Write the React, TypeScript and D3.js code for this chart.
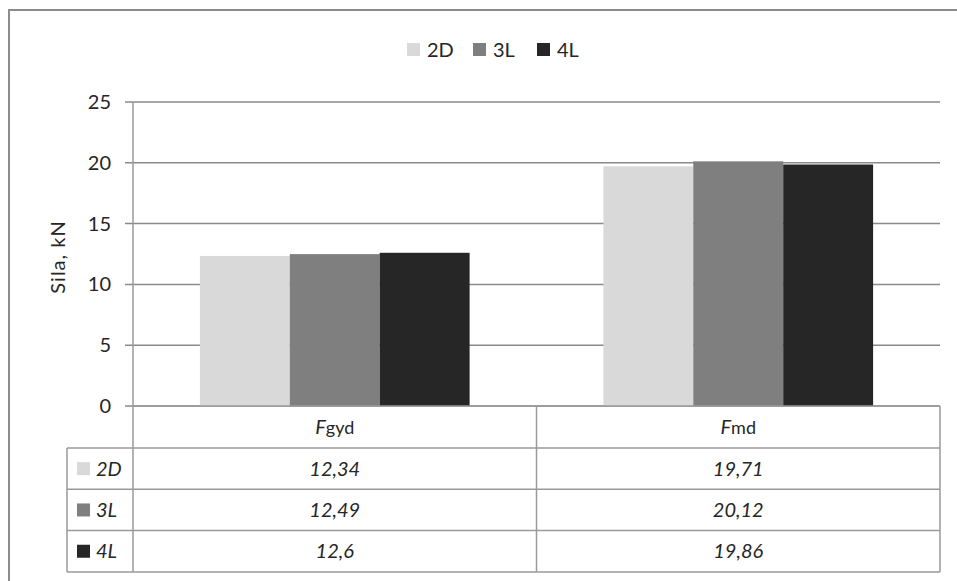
import React from "react";
import * as d3 from "d3";

const categories = ["Fgyd", "Fmd"];
const categoryMain = ["F", "F"];
const categorySub = ["gyd", "md"];
const seriesNames = ["2D", "3L", "4L"];
const values2D = [12.34, 19.71];
const values3L = [12.49, 20.12];
const values4L = [12.6, 19.86];
const seriesColors = ["#d9d9d9", "#7f7f7f", "#262626"];
const yTicks = [0, 5, 10, 15, 20, 25];
const yTitle = "Sila, kN";

const W = 957;
const H = 581;
const FONT = "Lato, 'Open Sans', sans-serif";

export default function App() {
  const seriesValues = [values2D, values3L, values4L];
  const left = 133;
  const right = 940;
  const y = d3.scaleLinear().domain([0, 25]).range([406, 102]);
  const x = d3.scaleBand<string>().domain(categories).range([left, right]).paddingInner(0).paddingOuter(0);
  const xs = d3.scaleBand<string>().domain(seriesNames).range([0, x.bandwidth()]).paddingInner(0).paddingOuter(0.744);
  const gridColor = "#8a8a8a";
  const tableLine = "#9a9a9a";
  const headerTop = y(0);
  const headerBottom = 448;
  const rowH = 41.3;
  const tableLeft = 67;
  const rowTop = (i: number) => headerBottom + i * rowH;
  const tableBottom = rowTop(3);
  const fmt = (v: number) => String(v).replace(".", ",");
  const textColor = "#262626";

  const legendItemX = [407, 473, 537];

  return (
    <svg width={W} height={H} style={{ position: "absolute", left: 0, top: 0, background: "#fff" }} fontFamily={FONT}>
      <rect x={9} y={10} width={W + 20} height={H + 20} fill="#fff" stroke="#8c8c8c" strokeWidth={2} />
      {seriesNames.map((s, i) => (
        <g key={s}>
          <rect x={legendItemX[i]} y={43} width={13} height={13} fill={seriesColors[i]} />
          <text x={legendItemX[i] + 20} y={57} fontSize={20} fill={textColor}>{s}</text>
        </g>
      ))}
      {yTicks.map((t) => (
        <g key={t}>
          <line x1={left - 8} x2={right} y1={y(t)} y2={y(t)} stroke={gridColor} strokeWidth={1.5} />
          <text x={111} y={y(t) + 7} textAnchor="end" fontSize={20} fill={textColor}>{t}</text>
        </g>
      ))}
      <text transform={`translate(65,257) rotate(-90)`} textAnchor="middle" fontSize={20} letterSpacing={1} fill={textColor}>{yTitle}</text>
      {categories.map((c, ci) => (
        <g key={c}>
          {seriesNames.map((s, si) => (
            <rect
              key={s}
              x={(x(c) as number) + (xs(s) as number)}
              y={y(seriesValues[si][ci])}
              width={xs.bandwidth()}
              height={y(0) - y(seriesValues[si][ci])}
              fill={seriesColors[si]}
            />
          ))}
        </g>
      ))}
      <line x1={left} x2={left} y1={y(25)} y2={tableBottom} stroke={tableLine} strokeWidth={1.5} />
      <line x1={left} x2={right} y1={headerTop} y2={headerTop} stroke={tableLine} strokeWidth={1.5} />
      {[0, 1, 2, 3].map((i) => (
        <line key={i} x1={tableLeft} x2={right} y1={rowTop(i)} y2={rowTop(i)} stroke={tableLine} strokeWidth={1.5} />
      ))}
      <line x1={tableLeft} x2={tableLeft} y1={headerBottom} y2={tableBottom} stroke={tableLine} strokeWidth={1.5} />
      {categories.map((c) => (
        <line key={c} x1={(x(c) as number) + x.bandwidth()} x2={(x(c) as number) + x.bandwidth()} y1={headerTop} y2={tableBottom} stroke={tableLine} strokeWidth={1.5} />
      ))}
      {categories.map((c, ci) => (
        <text key={c} x={(x(c) as number) + x.bandwidth() / 2} y={434} textAnchor="middle" fill={textColor}>
          <tspan fontStyle="italic" fontSize={20}>{categoryMain[ci]}</tspan>
          <tspan fontSize={18}>{categorySub[ci]}</tspan>
        </text>
      ))}
      {seriesNames.map((s, si) => (
        <g key={s}>
          <rect x={77} y={rowTop(si) + rowH / 2 - 6.5} width={13} height={13} fill={seriesColors[si]} />
          <text x={96} y={rowTop(si) + rowH / 2 + 7} fontStyle="italic" fontSize={20} fill={textColor}>{s}</text>
          {categories.map((c, ci) => (
            <text key={c} x={(x(c) as number) + x.bandwidth() / 2} y={rowTop(si) + rowH / 2 + 7} textAnchor="middle" fontStyle="italic" fontSize={20} fill={textColor}>
              {fmt(seriesValues[si][ci])}
            </text>
          ))}
        </g>
      ))}
    </svg>
  );
}
